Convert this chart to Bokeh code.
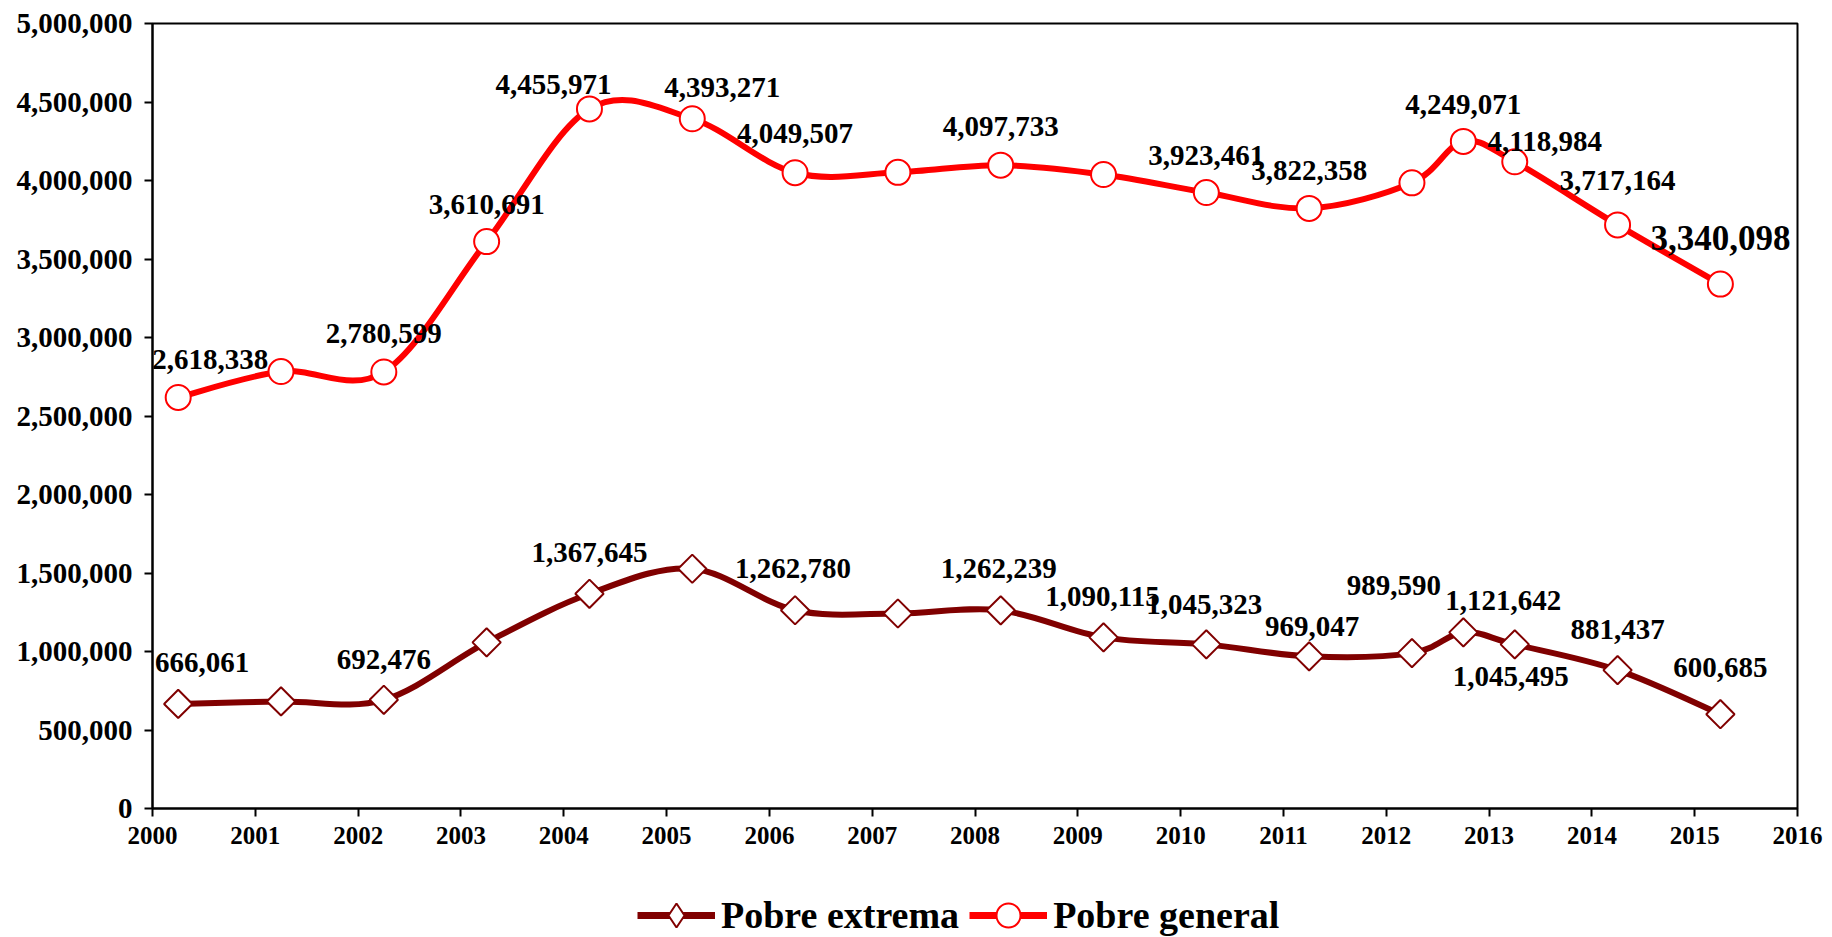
import math
from bokeh.plotting import figure
from bokeh.layouts import column
from bokeh.models import (Range1d, FixedTicker, NumeralTickFormatter, ColumnDataSource,
                          Legend, LegendItem)
from bokeh.core.properties import value
from bokeh.embed import file_html
from bokeh.resources import INLINE

# ---------------- data ----------------
x_pos = [2000.25, 2001.25, 2002.25, 2003.25, 2004.25, 2005.25, 2006.25, 2007.25,
         2008.25, 2009.25, 2010.25, 2011.25, 2012.25, 2012.75, 2013.25, 2014.25, 2015.25]
general = [2618338, 2783000, 2780599, 3610691, 4455971, 4393271, 4049507, 4052000,
           4097733, 4038000, 3923461, 3822358, 3985000, 4249071, 4118984, 3717164, 3340098]
extrema = [666061, 682000, 692476, 1058000, 1367645, 1527000, 1262780, 1242000,
           1262239, 1090115, 1045323, 969047, 989590, 1121642, 1045495, 881437, 600685]
general_labeled = [1, 0, 1, 1, 1, 1, 1, 0, 1, 0, 1, 1, 0, 1, 1, 1, 1]
extrema_labeled = [1, 0, 1, 0, 1, 0, 1, 0, 1, 1, 1, 1, 1, 1, 1, 1, 1]
x_ticks = list(range(2000, 2017))
y_ticks = [0, 500000, 1000000, 1500000, 2000000, 2500000, 3000000, 3500000, 4000000, 4500000, 5000000]
series_names = ["Pobre extrema", "Pobre general"]

# ---------------- label placement (screen px) ----------------
general_dx = [32, 0, 0, 0, -36, 30, 0, 0, 0, 0, 0, 0, 0, 0, 30, 0, 0]
general_dy = [-38, 0, -38, -37, -24, -31, -39, 0, -39, 0, -37, -38, 0, -37, -20, -44, -46]
extrema_dx = [24, 0, 0, 0, 0, 0, -2, 0, -2, -1, -2, 3, -18, 40, -4, 0, 0]
extrema_dy = [-41, 0, -40, 0, -41, 0, -42, 0, -42, -41, -40, -30, -68, -32, 32, -41, -47]

RED = "#FF0000"
DARK = "#800000"
FONT = "Liberation Serif"
W = 1824

p = figure(width=W, height=860, output_backend="svg", toolbar_location=None,
           x_range=Range1d(2000, 2016), y_range=Range1d(0, 5000000),
           min_border_left=152, min_border_right=27, min_border_top=23, min_border_bottom=52)
p.xgrid.visible = False
p.ygrid.visible = False
p.outline_line_color = "black"
p.outline_line_width = 2
p.background_fill_color = "white"
p.border_fill_color = "white"

for ax in (p.xaxis[0], p.yaxis[0]):
    ax.axis_line_color = "black"
    ax.axis_line_width = 2
    ax.major_tick_line_color = "black"
    ax.major_tick_line_width = 2
    ax.major_tick_out = 8
    ax.major_tick_in = 0
    ax.minor_tick_line_color = None
    ax.major_label_text_font = FONT
    ax.major_label_text_font_style = "bold"
    ax.major_label_text_color = "black"

p.xaxis.ticker = FixedTicker(ticks=x_ticks)
p.xaxis.major_label_text_font_size = "25px"
p.xaxis.major_label_standoff = 10
p.yaxis.ticker = FixedTicker(ticks=y_ticks)
p.yaxis.formatter = NumeralTickFormatter(format="0,0")
p.yaxis.major_label_text_font_size = "29px"
p.yaxis.major_label_standoff = 12


def smooth_segments(xs, ys):
    """Bezier segments (Catmull-Rom style, as in a smoothed spreadsheet line)."""
    n = len(xs)
    d = dict(x0=[], y0=[], x1=[], y1=[], cx0=[], cy0=[], cx1=[], cy1=[])
    for i in range(n - 1):
        i0 = max(i - 1, 0)
        i3 = min(i + 2, n - 1)
        d["x0"].append(xs[i]); d["y0"].append(ys[i])
        d["x1"].append(xs[i + 1]); d["y1"].append(ys[i + 1])
        d["cx0"].append(xs[i] + (xs[i + 1] - xs[i0]) / 6)
        d["cy0"].append(ys[i] + (ys[i + 1] - ys[i0]) / 6)
        d["cx1"].append(xs[i + 1] - (xs[i3] - xs[i]) / 6)
        d["cy1"].append(ys[i + 1] - (ys[i3] - ys[i]) / 6)
    return ColumnDataSource(d)


# lines
p.bezier(x0="x0", y0="y0", x1="x1", y1="y1", cx0="cx0", cy0="cy0", cx1="cx1", cy1="cy1",
         source=smooth_segments(x_pos, general), line_color=RED, line_width=6, line_cap="round")
p.bezier(x0="x0", y0="y0", x1="x1", y1="y1", cx0="cx0", cy0="cy0", cx1="cx1", cy1="cy1",
         source=smooth_segments(x_pos, extrema), line_color=DARK, line_width=6, line_cap="round")

# markers
gen_src = ColumnDataSource(dict(x=x_pos, y=general))
ext_src = ColumnDataSource(dict(x=x_pos, y=extrema))
p.scatter("x", "y", source=gen_src, marker="circle", size=25,
          fill_color="white", line_color=RED, line_width=2)
p.scatter("x", "y", source=ext_src, marker="square", size=20, angle=math.pi / 4,
          fill_color="white", line_color=DARK, line_width=2)


# data labels
def label_source(xs, vals, flags, dx, dy):
    d = dict(x=[], y=[], t=[], dx=[], dy=[])
    for xv, v, f, a, b in zip(xs, vals, flags, dx, dy):
        if f:
            d["x"].append(xv); d["y"].append(v); d["t"].append(f"{v:,}")
            d["dx"].append(a); d["dy"].append(b)
    return ColumnDataSource(d)


def add_labels(src, size):
    p.text("x", "y", text="t", source=src, x_offset="dx", y_offset="dy",
           text_font=value(FONT), text_font_style="bold", text_font_size=size,
           text_align="center", text_baseline="middle", text_color="black")


add_labels(label_source(x_pos[:-1], general[:-1], general_labeled[:-1],
                        general_dx[:-1], general_dy[:-1]), "29px")
add_labels(label_source(x_pos[-1:], general[-1:], general_labeled[-1:],
                        general_dx[-1:], general_dy[-1:]), "35px")
add_labels(label_source(x_pos, extrema, extrema_labeled, extrema_dx, extrema_dy), "29px")

# ---------------- legend strip below ----------------
# same series drawn again in a strip whose ranges hide them; only their legend swatches show
lg = figure(width=W, height=77, output_backend="svg", toolbar_location=None,
            x_range=Range1d(2000, 2016), y_range=Range1d(-2, -1),
            min_border_left=0, min_border_right=0, min_border_top=0, min_border_bottom=0)
lg.axis.visible = False
lg.xgrid.visible = False
lg.ygrid.visible = False
lg.outline_line_color = None
lg.background_fill_color = "white"
lg.border_fill_color = "white"

ext_line = lg.line(x_pos, extrema, line_color=DARK, line_width=7)
ext_mark = lg.scatter(x_pos, extrema, marker="diamond", size=24,
                      fill_color="white", line_color=DARK, line_width=2)
gen_line = lg.line(x_pos, general, line_color=RED, line_width=7)
gen_mark = lg.scatter(x_pos, general, marker="circle", size=24,
                      fill_color="white", line_color=RED, line_width=2)
legend = Legend(items=[LegendItem(label=series_names[0], renderers=[ext_line, ext_mark]),
                       LegendItem(label=series_names[1], renderers=[gen_line, gen_mark])],
                location=(485, -8), orientation="horizontal",
                glyph_width=78, glyph_height=60, label_standoff=6, spacing=10,
                padding=0, margin=0, border_line_color=None, background_fill_alpha=0,
                label_text_font=FONT, label_text_font_style="bold",
                label_text_font_size="38px", label_text_color="black")
lg.add_layout(legend)

layout = column(p, lg, spacing=0)
open("out.html", "w").write(file_html(layout, INLINE))
